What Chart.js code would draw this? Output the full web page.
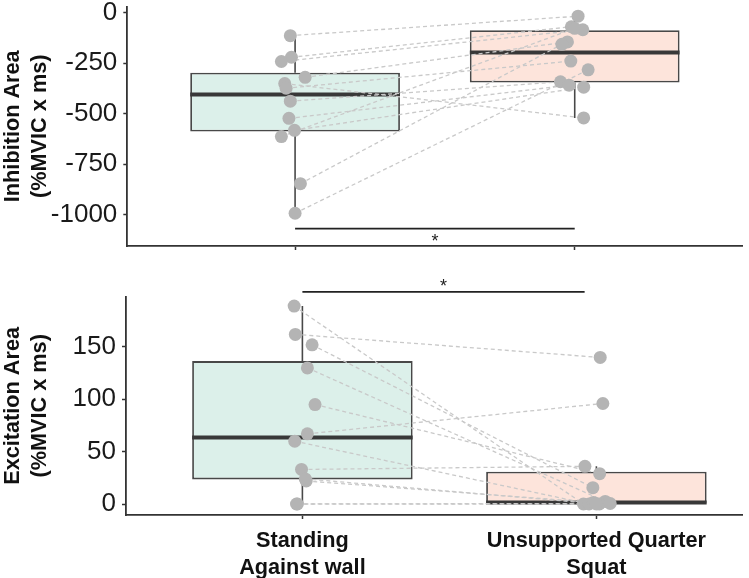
<!DOCTYPE html>
<html>
<head>
<meta charset="utf-8">
<script src="https://cdn.jsdelivr.net/npm/chart.js@4.4.1/dist/chart.umd.min.js"></script>
<style>
    html, body { margin: 0; padding: 0; background: #fff; overflow: hidden; }
    #topChart { position: absolute; left: 0; top: 0; }
    #bottomChart { position: absolute; left: 0; top: 262px; }
</style>
</head>
<body>
<canvas id="topChart" width="749" height="262"></canvas>
<canvas id="bottomChart" width="749" height="316"></canvas>
<script>
// groups on the x axis (1 = wall, 2 = squat)
const groupLabels = [['Standing', 'Against wall'], ['Unsupported Quarter', 'Squat']];

// inhibition area, one value per subject
const inhWall = [-114, -221, -242, -320, -351, -374, -438, -523, -582, -613, -846, -992];
const inhSquat = [-18, -70, -85, -145, -521, -240, -342, -359, -369, -78, -157, -283];
const inhWallJitter = [-0.017, -0.013, -0.049, 0.036, -0.037, -0.032, -0.017, -0.022, -0.002, -0.049, 0.019, 0];
const inhSquatJitter = [0.012, -0.012, 0.029, -0.026, 0.032, -0.014, -0.051, -0.020, 0.032, 0.0, -0.046, 0.048];
// box stats [wall, squat]
const inhQ1 = [-588, -346];
const inhMedian = [-405, -198];
const inhQ3 = [-297, -87];
const inhLow = [-992, -521];
const inhHigh = [-114, -18];
const inhTicks = [0, -250, -500, -750, -1000];

// excitation area
const excWall = [189, 162, 152, 130, 95, 67, 60, 33, 24, 22, 0, 0];
const excSquat = [0, 140, 15.6, 2.5, 29, 96, 0, 36, 0, 1.5, 0.5, 0];
const excWallJitter = [-0.028, -0.024, 0.033, 0.017, 0.043, 0.017, -0.026, -0.003, 0.010, 0.013, -0.020, -0.017];
const excSquatJitter = [-0.044, 0.013, -0.012, 0.030, 0.011, 0.022, -0.025, -0.039, 0.010, -0.010, 0.047, 0.0];
const excQ1 = [23.5, 0];
const excMedian = [63.6, 1.5];
const excQ3 = [136.5, 30.8];
const excLow = [0, 0];
const excHigh = [189, 36];
const excTicks = [0, 50, 100, 150];

const boxFill = ['#dcf0ea', '#fde4db'];
const FONT = '"Liberation Sans", Arial, sans-serif';
const BOX_HALF = 0.375;

function segment(points, color, width, order, dash) {
    return {
        type: 'line',
        data: points,
        borderColor: color,
        borderWidth: width,
        borderDash: dash || [],
        pointRadius: 0,
        tension: 0,
        fill: false,
        order: order
    };
}

function buildDatasets(wall, squat, wallJit, squatJit, q1, med, q3, low, high, sig) {
    const ds = [];
    ds.push({
        type: 'bar',
        data: [{ x: 1, y: [q1[0], q3[0]] }, { x: 2, y: [q1[1], q3[1]] }],
        backgroundColor: boxFill,
        borderColor: '#484848',
        borderWidth: 1.8,
        borderSkipped: false,
        categoryPercentage: 1,
        barPercentage: 0.75,
        order: 3
    });
    for (let g = 0; g < 2; g++) {
        ds.push(segment([{ x: g + 1, y: q3[g] }, { x: g + 1, y: high[g] }], '#484848', 1.6, 4));
        ds.push(segment([{ x: g + 1, y: q1[g] }, { x: g + 1, y: low[g] }], '#484848', 1.6, 4));
        ds.push(segment([{ x: g + 1 - BOX_HALF, y: med[g] }, { x: g + 1 + BOX_HALF, y: med[g] }], '#383838', 4, 2));
    }
    // paired subjects
    wall.forEach((v, i) => {
        ds.push(segment([{ x: 1 + wallJit[i], y: v }, { x: 2 + squatJit[i], y: squat[i] }], '#c9c9c9', 1.3, 1, [4, 3]));
    });
    const pts = wall.map((v, i) => ({ x: 1 + wallJit[i], y: v }))
        .concat(squat.map((v, i) => ({ x: 2 + squatJit[i], y: v })));
    ds.push({
        type: 'scatter',
        data: pts,
        pointRadius: 6.5,
        pointBackgroundColor: '#b4b4b4',
        pointBorderWidth: 0,
        order: 0
    });
    // significance bracket
    const bracket = segment([{ x: sig.x0, y: sig.y }, { x: sig.x1, y: sig.y }], '#222', 1.8, 0);
    bracket.clip = false;
    ds.push(bracket);
    return ds;
}

const starPlugin = {
    id: 'stars',
    afterDatasetsDraw(chart, args, opts) {
        const ctx = chart.ctx;
        ctx.save();
        ctx.font = '18px ' + FONT;
        ctx.fillStyle = '#222';
        ctx.textAlign = 'center';
        ctx.textBaseline = 'middle';
        ctx.fillText('*', chart.scales.x.getPixelForValue(opts.x), chart.scales.y.getPixelForValue(opts.y));
        ctx.restore();
    }
};

function axisGrid() {
    return { display: true, offset: false, drawOnChartArea: false, drawTicks: true, tickLength: 4, tickColor: '#333', tickWidth: 1.5 };
}

function makeChart(id, cfg) {
    const ctx = document.getElementById(id).getContext('2d');
    return new Chart(ctx, {
        type: 'scatter',
        data: { datasets: cfg.datasets },
        plugins: [starPlugin],
        options: {
            responsive: false,
            animation: false,
            devicePixelRatio: 1,
            layout: { padding: cfg.padding },
            plugins: {
                legend: { display: false },
                tooltip: { enabled: false },
                stars: cfg.star
            },
            scales: {
                x: {
                    type: 'linear',
                    min: cfg.xMin,
                    max: cfg.xMax,
                    offset: false,
                    afterBuildTicks: s => { s.ticks = [{ value: 1 }, { value: 2 }]; },
                    afterFit: s => {
                        s.height = cfg.xHeight;
                        s.paddingLeft = 0;
                        s.paddingRight = 0;
                    },
                    ticks: {
                        autoSkip: false,
                        maxRotation: 0,
                        padding: 9,
                        color: '#111',
                        font: { family: FONT, size: 21.7, weight: 'bold', lineHeight: '27px' },
                        callback: (v, i) => cfg.showLabels ? groupLabels[i] : ''
                    },
                    grid: axisGrid(),
                    border: { display: true, color: '#333', width: 1.8 }
                },
                y: {
                    min: cfg.yMin,
                    max: cfg.yMax,
                    afterBuildTicks: s => { s.ticks = cfg.ticks.map(v => ({ value: v })); },
                    afterFit: s => {
                        s.width = cfg.yWidth;
                        s.paddingTop = 0;
                        s.paddingBottom = 0;
                    },
                    ticks: {
                        padding: 6,
                        color: '#1a1a1a',
                        font: { family: FONT, size: 26 },
                        callback: v => String(v)
                    },
                    grid: axisGrid(),
                    border: { display: true, color: '#333', width: 1.8 },
                    title: {
                        display: true,
                        text: cfg.title,
                        color: '#111',
                        padding: { top: 0, bottom: 0 },
                        font: { family: FONT, size: 21.7, weight: 'bold', lineHeight: '27px' }
                    }
                }
            }
        }
    });
}

makeChart('topChart', {
    datasets: buildDatasets(inhWall, inhSquat, inhWallJitter, inhSquatJitter,
        inhQ1, inhMedian, inhQ3, inhLow, inhHigh, { x0: 1, x1: 2, y: -1068 }),
    star: { x: 1.5, y: -1132 },
    padding: { top: 5, right: 4, left: 0, bottom: 0 },
    xMin: 0.4, xMax: 2.6, xHeight: 16, showLabels: false,
    yMin: -1154, yMax: 30, yWidth: 127.3, ticks: inhTicks,
    title: ['Inhibition Area', '(%MVIC x ms)']
});

makeChart('bottomChart', {
    datasets: buildDatasets(excWall, excSquat, excWallJitter, excSquatJitter,
        excQ1, excMedian, excQ3, excLow, excHigh, { x0: 1, x1: 1.96, y: 202.6 }),
    star: { x: 1.48, y: 207.5 },
    padding: { top: 34.7, right: 0, left: 0, bottom: 0 },
    xMin: 0.4, xMax: 2.497, xHeight: 63, showLabels: true,
    yMin: -10.5, yMax: 198, yWidth: 126, ticks: excTicks,
    title: ['Excitation Area', '(%MVIC x ms)']
});
</script>
</body>
</html>
